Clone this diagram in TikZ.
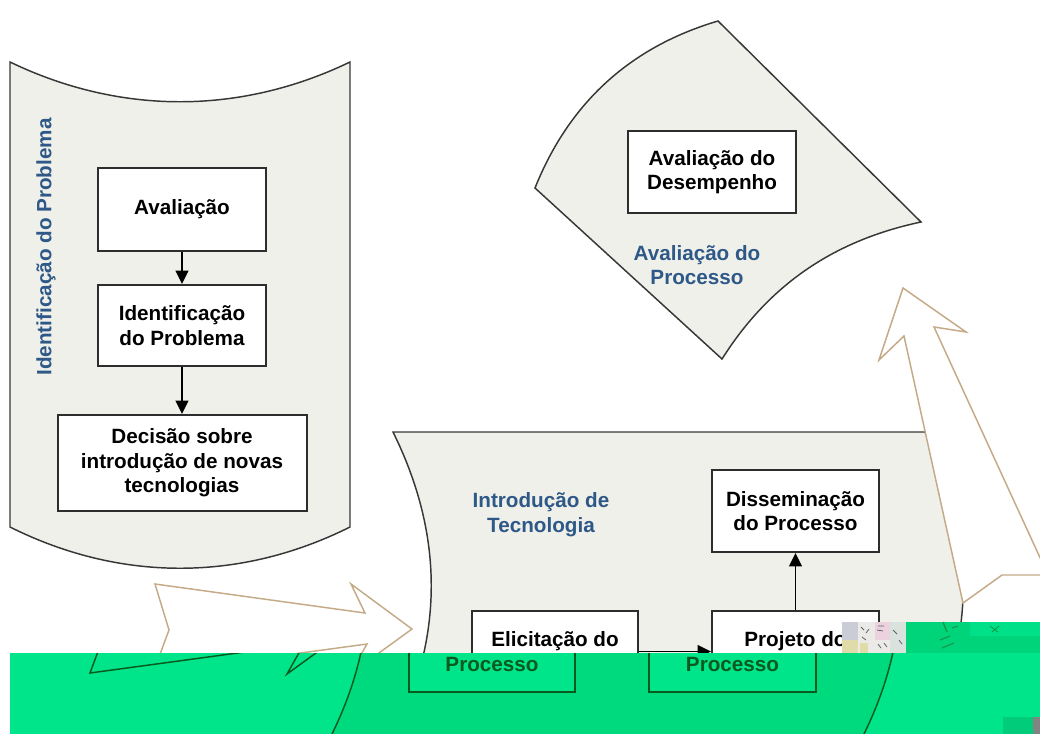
\documentclass[tikz,border=0pt]{standalone}
\usepackage{fontspec}
\setmainfont{Liberation Sans}
\usetikzlibrary{arrows.meta}
\definecolor{panelfill}{RGB}{240,240,234}
\definecolor{panelline}{RGB}{55,55,55}
\definecolor{boxline}{RGB}{45,45,45}
\definecolor{labelblue}{RGB}{46,88,135}
\definecolor{arrowtan}{RGB}{196,170,135}
\definecolor{bandgreen}{RGB}{0,228,138}
\definecolor{banddark}{RGB}{0,218,126}
\definecolor{bandline}{RGB}{10,90,30}
\definecolor{patchgreen}{RGB}{0,212,122}
\definecolor{patchlight}{RGB}{0,224,136}
\definecolor{patchdark}{RGB}{20,150,70}
\definecolor{noiseA}{RGB}{202,204,214}
\definecolor{noiseB}{RGB}{236,234,230}
\definecolor{noiseC}{RGB}{236,210,222}
\definecolor{noiseD}{RGB}{218,226,222}
\definecolor{noiseE}{RGB}{224,220,170}
\definecolor{speck}{RGB}{90,100,110}
\definecolor{cornergray}{RGB}{128,132,130}
\definecolor{cornergreen}{RGB}{0,204,122}
\tikzset{
  lbl/.style={font=\fontsize{15.5pt}{18.5pt}\selectfont\bfseries, align=center},
  box/.style={lbl, draw=boxline, line width=1.5pt, fill=white, inner sep=0pt},
  bandbox/.style={lbl, draw=bandline, line width=1.5pt, fill=bandgreen, text=bandline, inner sep=0pt},
  panel/.style={fill=panelfill, draw=panelline, line width=1.1pt},
  bigarrow/.style={fill=white, draw=arrowtan, line width=1.1pt, line join=miter},
  conn/.style={draw=black, line width=1.3pt, -{Triangle[length=10pt,width=9.5pt]}},
  title/.style={lbl, text=labelblue},
  speckle/.style={draw=speck, line width=0.6pt}
}
\def\leftpanelpath{(10,62) .. controls (120,115) and (240,115) .. (350,62) -- (350,527) .. controls (240,582) and (120,582) .. (10,527) -- cycle}
\def\intropanelpath{(393,432) -- (925,432) .. controls (976,535) and (976,637) .. (925,738) -- (393,738) .. controls (444,637) and (444,535) .. (393,432) -- cycle}
\def\evalpanelpath{(535,188) .. controls (569,103) and (630,47) .. (718,21) -- (921,222) .. controls (836,240) and (770,283) .. (722,359) -- cycle}
\def\lefttarrowpath{(155,584) -- (365,613) -- (351,584) -- (412,629) -- (350,674) -- (367,644) -- (153,673) -- (169,630) -- cycle}
\def\uparrowpath{(903,288) -- (966,332) -- (934,327) -- (1048,575) -- (1002,575) -- (963,603) -- (904,336) -- (879,360) -- cycle}
\begin{document}
\begin{tikzpicture}[x=0.75pt,y=-0.75pt]
\useasboundingbox (0,0) rectangle (1040,733);
\begin{scope}
\clip (0,0) rectangle (1040,733);
% panels
\path[panel] \leftpanelpath;
\path[bigarrow] \lefttarrowpath;
\path[panel] \intropanelpath;
\path[bigarrow] \uparrowpath;
\path[panel] \evalpanelpath;
% titles
\node[title, rotate=90] (t1) at (46,247) {Identificação do Problema};
\node[title] (t2) at (541,515) {Introdução de\\Tecnologia};
\node[title] (t3) at (697,265) {Avaliação do\\Processo};
% boxes
\node[box, minimum width=126pt, minimum height=62.25pt] (aval) at (182,209.5) {Avaliação};
\node[box, minimum width=126pt, minimum height=60.75pt] (ident) at (182,325.5) {Identificação\\do Problema};
\node[box, minimum width=186.75pt, minimum height=72pt] (decis) at (182,463) {Decisão sobre\\introdução de novas\\tecnologias};
\node[box, minimum width=126pt, minimum height=61.5pt] (desemp) at (712,172) {Avaliação do\\Desempenho};
\node[box, minimum width=125.25pt, minimum height=61.5pt] (dissem) at (795.5,511) {Disseminação\\do Processo};
\node[box, minimum width=125.25pt, minimum height=60.75pt] (proj) at (795.5,651.5) {Projeto do\\\phantom{Processo}};
\node[box, minimum width=124.5pt, minimum height=60.75pt] (elic) at (555,651.5) {Elicitação do\\\phantom{Processo}};
% connectors
\draw[conn] (aval) -- (ident);
\draw[conn] (ident) -- (decis);
\draw[conn] (proj) -- (dissem);
\draw[conn] (elic) -- (proj);
% glitch patches
\fill[patchgreen] (906,622) rectangle (1040,653);
\fill[patchlight] (970,622) rectangle (1040,636);
\draw[patchdark, line width=1pt] (943,622) -- (947,632);
\draw[patchdark, line width=0.8pt] (940,640) -- (950,636) (942,648) -- (954,643) (952,628) -- (958,626);
\draw[patchdark, line width=0.6pt] (990,626) -- (998,632) (992,632) -- (999,626);
\fill[noiseA] (842,622) rectangle (858,653);
\fill[noiseE] (842,640) rectangle (858,653);
\fill[noiseB] (858,622) rectangle (875,653);
\fill[noiseC] (875,622) rectangle (890,640);
\fill[noiseB] (875,640) rectangle (890,653);
\fill[noiseD] (890,622) rectangle (906,653);
\fill[noiseE] (860,643) rectangle (868,653);
\draw[speckle] (861,627) -- (864,630) (866,633) -- (869,629) (862,637) -- (866,640)
  (878,644) -- (881,648) (884,643) -- (887,647) (893,630) -- (897,634) (899,640) -- (902,644)
  (878,626) -- (884,626) (877,630) -- (883,631);
% green band (shifted copy)
\begin{scope}
\clip (10,653) rectangle (1045,745);
\fill[bandgreen] (10,653) rectangle (1045,745);
\begin{scope}[shift={(-63,0)}]
\path[fill=banddark, draw=bandline, line width=1.1pt] \intropanelpath;
\path[draw=bandline, line width=1.1pt] \lefttarrowpath;
\node[bandbox, minimum width=124.5pt, minimum height=60.75pt] (elicB) at (555,651.5) {\phantom{Elicitação do}\\Processo};
\node[bandbox, minimum width=125.25pt, minimum height=60.75pt] (projB) at (795.5,651.5) {\phantom{Projeto do}\\Processo};
\end{scope}
\end{scope}
\fill[cornergreen] (1003,717) rectangle (1033,735);
\fill[cornergray] (1033,717) rectangle (1042,735);
\end{scope}
\end{tikzpicture}
\end{document}
